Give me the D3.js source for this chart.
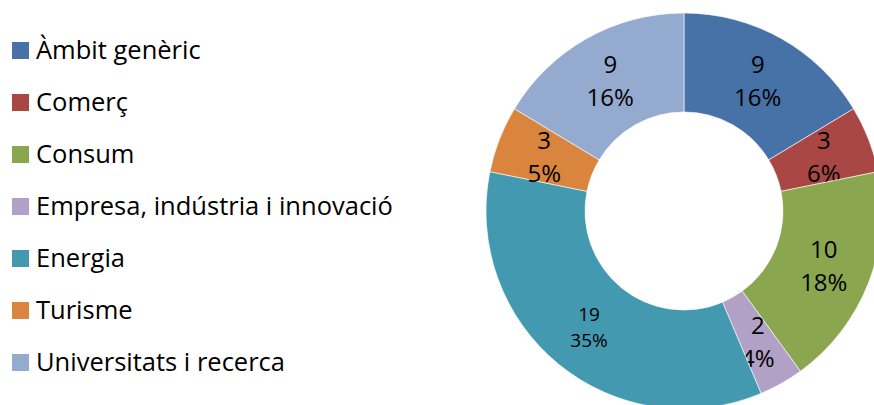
<!DOCTYPE html>
<html>
<head>
<meta charset="utf-8">
<script src="https://cdn.jsdelivr.net/npm/d3@7"></script>
<style>
  body { margin: 0; background: #fff; }
  text { font-family: "Open Sans", sans-serif; fill: #000; }
</style>
</head>
<body>
<script>
var categories = ["Àmbit genèric", "Comerç", "Consum", "Empresa, indústria i innovació", "Energia", "Turisme", "Universitats i recerca"];
var values = [9, 3, 10, 2, 19, 3, 9];
var percents = ["16%", "6%", "18%", "4%", "35%", "5%", "16%"];
var colors = ["#4672A8", "#A94744", "#8AA74F", "#B1A1C6", "#4399B0", "#DA853E", "#94AACE"];

var w = 874, h = 405;
var cx = 684, cy = 211;
var outerR = 198, innerR = 99;

var svg = d3.select("body")
    .append("svg")
    .attr("width", w)
    .attr("height", h);

var color = d3.scaleOrdinal().domain(categories).range(colors);

var pie = d3.pie().sort(null).value(function(d){ return d.value; });
var arc = d3.arc().innerRadius(innerR).outerRadius(outerR);
var labelArc = d3.arc().innerRadius(150).outerRadius(150);

var data = categories.map(function(c, i){
    return {name: c, value: values[i], pct: percents[i]};
});

var g = svg.append("g").attr("transform", "translate(" + cx + "," + cy + ")");

var slices = g.selectAll("g.slice")
    .data(pie(data))
    .enter()
    .append("g")
    .attr("class", "slice");

slices.append("path")
    .attr("d", arc)
    .attr("fill", function(d){ return color(d.data.name); })
    .attr("stroke", "#fff")
    .attr("stroke-width", 0.6);

var big = function(d){ return d.data.value > 15; };

var lbl = slices.append("text")
    .attr("transform", function(d){ return "translate(" + labelArc.centroid(d) + ")"; })
    .attr("text-anchor", "middle")
    .style("font-size", function(d){ return big(d) ? "19px" : "24px"; });

lbl.append("tspan")
    .attr("x", 0)
    .attr("dy", "-0.3em")
    .text(function(d){ return d.data.value; });
lbl.append("tspan")
    .attr("x", 0)
    .attr("dy", "1.35em")
    .text(function(d){ return d.data.pct; });

// legend
var legend = svg.append("g");
var rowY = d3.scalePoint().domain(categories).range([50, 362]);

var item = legend.selectAll("g")
    .data(categories)
    .enter()
    .append("g")
    .attr("transform", function(d){ return "translate(0," + rowY(d) + ")"; });

item.append("rect")
    .attr("x", 12)
    .attr("y", -8)
    .attr("width", 17)
    .attr("height", 17)
    .attr("fill", function(d){ return color(d); });

item.append("text")
    .attr("x", 36)
    .attr("y", 0)
    .attr("dy", "0.36em")
    .style("font-size", "25.5px")
    .text(function(d){ return d; });
</script>
</body>
</html>
